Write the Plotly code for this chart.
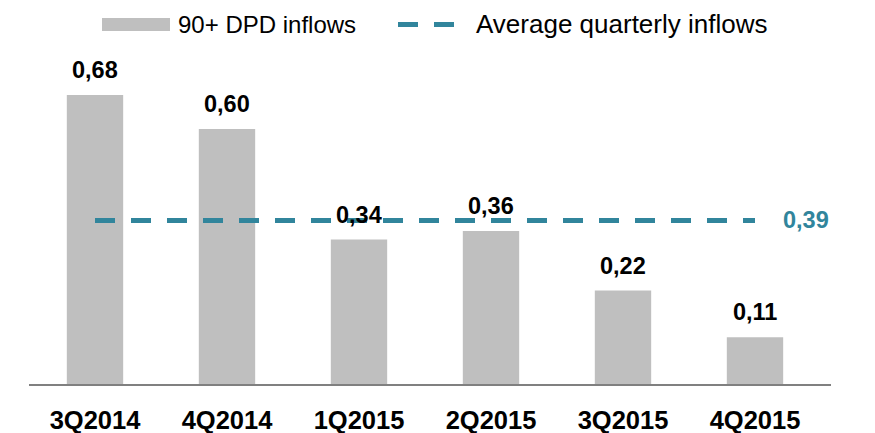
import plotly.graph_objects as go

# ---- data ----
categories = ["3Q2014", "4Q2014", "1Q2015", "2Q2015", "3Q2015", "4Q2015"]
inflows = [0.68, 0.60, 0.34, 0.36, 0.22, 0.11]
inflow_labels = ["0,68", "0,60", "0,34", "0,36", "0,22", "0,11"]
average_value = 0.385
average_label = "0,39"
series_names = ["90+ DPD inflows", "Average quarterly inflows"]

# ---- styles ----
BAR_COLOR = "#BFBFBF"
LINE_COLOR = "#31859C"
FONT = "Liberation Sans, Arial, sans-serif"

W, H = 875, 433
OFF = 8  # page body margin
ML, MR, MT, MB = 21, 52, 36, 57
PW = W - ML - MR
PH = H - MT - MB


def px_x(px):
    return (px - OFF - ML) / PW


def px_y(py):
    return (H - MB - (py - OFF)) / PH


fig = go.Figure()

fig.add_trace(go.Bar(
    x=categories, y=inflows, name=series_names[0],
    marker=dict(color=BAR_COLOR, line=dict(width=0)),
    width=0.427, showlegend=False, hoverinfo="x+y",
))

fig.add_trace(go.Scatter(
    x=categories, y=[average_value] * len(categories), name=series_names[1],
    mode="lines", line=dict(color=LINE_COLOR, width=5, dash="20px,16px"),
    showlegend=False, hoverinfo="y",
))

annotations = []
for c, v, t in zip(categories, inflows, inflow_labels):
    annotations.append(dict(
        x=c, y=v, xref="x", yref="y", text=t, showarrow=False,
        yanchor="bottom", xanchor="center", yshift=10,
        font=dict(family=FONT, size=23.5, color="#000000", weight="bold"),
    ))

annotations.append(dict(
    x=categories[-1], y=average_value, xref="x", yref="y", text=average_label,
    showarrow=False, xanchor="left", yanchor="middle", xshift=26,
    font=dict(family=FONT, size=23.5, color=LINE_COLOR, weight="bold"),
))

# custom legend
annotations.append(dict(
    x=px_x(176), y=px_y(24.5), xref="paper", yref="paper", text=series_names[0],
    showarrow=False, xanchor="left", yanchor="middle",
    font=dict(family=FONT, size=24, color="#000000"),
))
annotations.append(dict(
    x=px_x(474), y=px_y(24.5), xref="paper", yref="paper", text=series_names[1],
    showarrow=False, xanchor="left", yanchor="middle",
    font=dict(family=FONT, size=26, color="#000000"),
))

shapes = [
    dict(type="rect", xref="paper", yref="paper",
         x0=px_x(102), x1=px_x(170), y0=px_y(31), y1=px_y(18),
         fillcolor=BAR_COLOR, line=dict(width=0)),
    dict(type="line", xref="paper", yref="paper",
         x0=px_x(398), x1=px_x(454), y0=px_y(24.5), y1=px_y(24.5),
         line=dict(color=LINE_COLOR, width=5, dash="20px,16px")),
]

fig.update_layout(
    width=W, height=H,
    margin=dict(l=ML, r=MR, t=MT, b=MB),
    paper_bgcolor="white", plot_bgcolor="white",
    bargap=0.573,
    showlegend=False,
    annotations=annotations,
    shapes=shapes,
    font=dict(family=FONT),
    xaxis=dict(
        type="category", showgrid=False, zeroline=False, automargin=False,
        showline=True, linecolor="#808080", linewidth=2,
        ticks="", tickfont=dict(family=FONT, size=25.5, color="#000000", weight="bold"),
        ticklabelstandoff=12,
    ),
    yaxis=dict(range=[0, 0.8], visible=False, showgrid=False, zeroline=False,
               automargin=False),
)

fig.write_html("out.html")
